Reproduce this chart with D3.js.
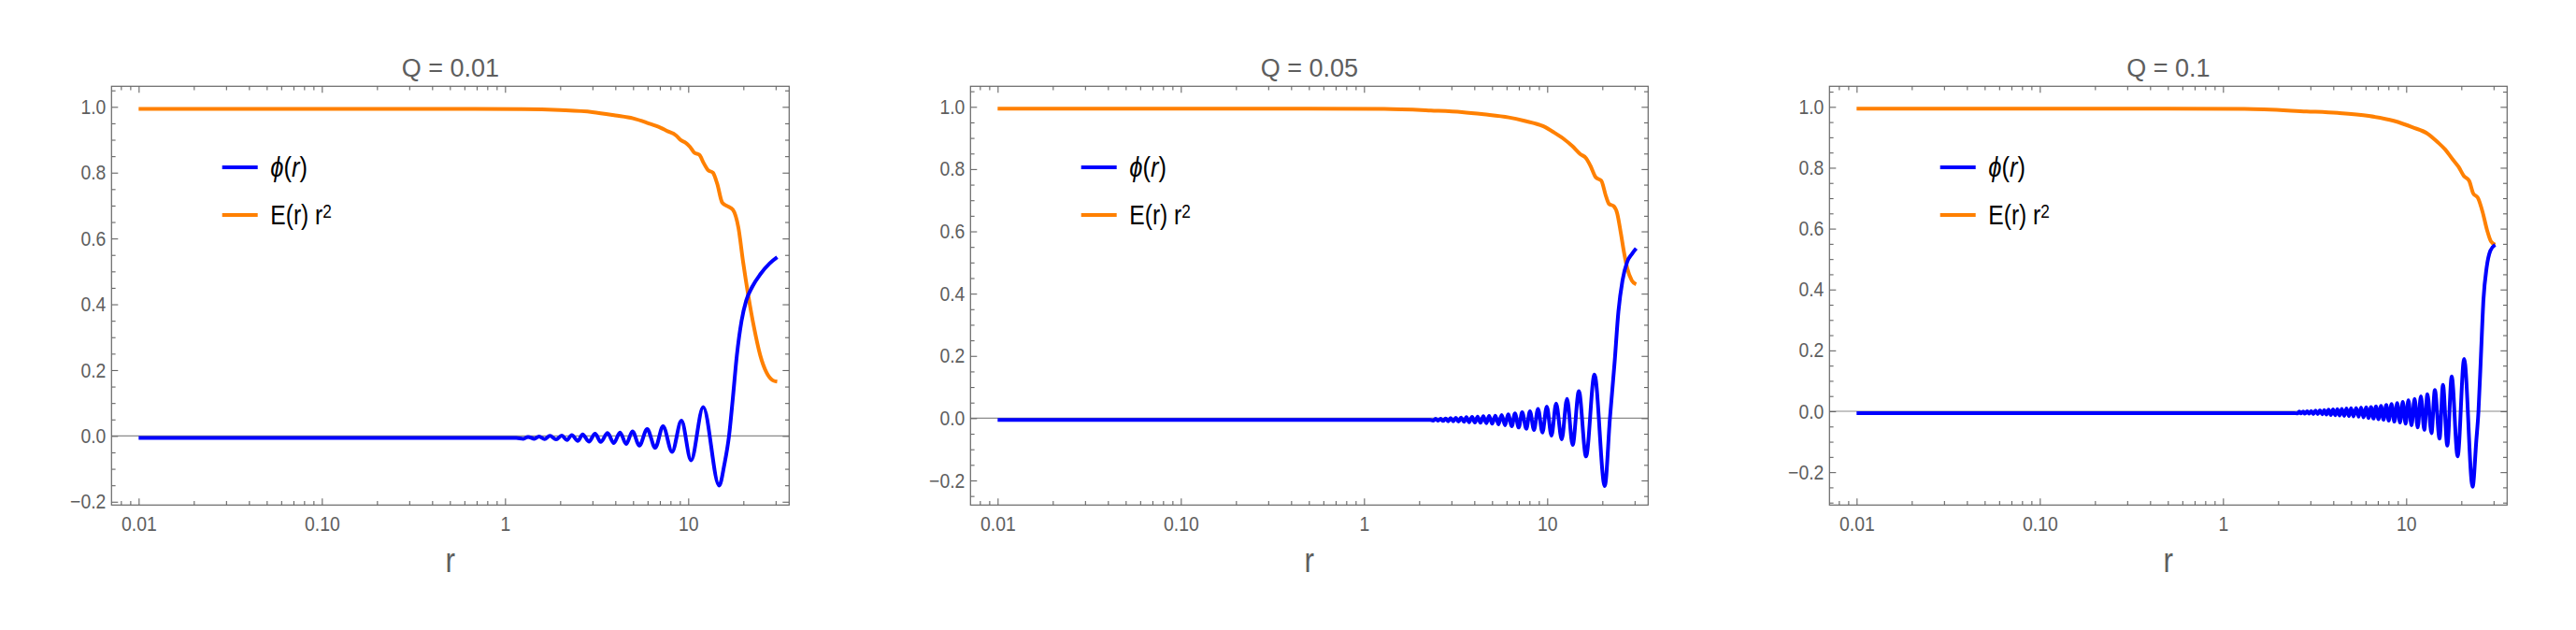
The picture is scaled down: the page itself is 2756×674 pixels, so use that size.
<!DOCTYPE html>
<html><head><meta charset="utf-8">
<script src="https://cdn.jsdelivr.net/npm/d3@7"></script>
<style>
body{margin:0;background:#fff}
svg text{font-family:"Liberation Sans",Arial,Helvetica,sans-serif}
</style>
</head><body>
<svg id="c" width="2756" height="674"></svg>
<script>
// ---------------- data ----------------
const titles = ["Q = 0.01", "Q = 0.05", "Q = 0.1"];
const xTickValues = [0.01, 0.1, 1, 10];
const xTickLabels = ["0.01", "0.10", "1", "10"];
const yTickValues = [-0.2, 0, 0.2, 0.4, 0.6, 0.8, 1.0];
const yTickLabels = ["\u22120.2", "0.0", "0.2", "0.4", "0.6", "0.8", "1.0"];
const xLabel = "r";
const xDomain = [0.00711, 35.56];
const yDomains = [[-0.210, 1.0625], [-0.279, 1.066], [-0.308, 1.0676]];

// Q = 0.01
const phiR1 = [0.01,0.03,0.1,0.3,0.6,1.0,1.15,
  1.260,1.336,1.446,1.533,1.645,1.758,1.901,2.040,2.181,2.313,
  2.501,2.652,2.869,3.102,3.329,3.628,3.924,4.243,4.589,4.963,
  5.410,5.968,6.605,7.287,8.163,9.180,10.36,12.07,14.75,
  15.76,16.71,17.51,18.43,19.54,20.72,22.41,24.72,27.80,30.6];
const phiV1 = [-0.006,-0.006,-0.006,-0.006,-0.006,-0.006,-0.006,
  -0.0086,-0.0029,-0.0086,-0.0020,-0.0095,0.0000,-0.0105,0.0009,-0.0124,0.0028,
  -0.0152,0.0047,-0.0171,0.0066,-0.0181,0.0085,-0.0218,0.0104,-0.0247,0.0141,
  -0.0294,0.0208,-0.0360,0.0293,-0.0484,0.0463,-0.0739,0.0880,-0.1506,
  -0.086,0.001,0.113,0.245,0.349,0.411,0.454,0.491,0.524,0.543];
const eR1 = [0.01,0.1,0.5,1.26,2.0,3.0,4.0,5.0,6.0,7.1,7.64,8.59,9.11,9.66,10.24,10.78,11.52,12.12,12.81,13.63,14.40,15.33,16.38,17.51,18.79,19.93,21.30,22.86,24.72,26.73,28.91,30.6];
const eV1 = [0.994,0.994,0.994,0.993,0.990,0.984,0.974,0.965,0.951,0.936,0.927,0.913,0.899,0.891,0.878,0.861,0.854,0.830,0.808,0.800,0.766,0.709,0.698,0.688,0.633,0.529,0.425,0.330,0.245,0.193,0.169,0.165];

// Q = 0.05
const phiR2 = [0.01,0.03,0.1,0.3,1.0,1.8,2.3,
  2.38,2.46,2.54,2.62,2.70,2.79,2.88,2.97,3.07,3.17,3.28,3.39,3.51,3.62,3.75,3.89,
  4.03,4.17,4.32,4.48,4.65,4.82,5.01,5.21,5.42,5.64,5.89,6.12,6.41,6.67,6.99,7.30,
  7.69,8.05,8.47,8.91,9.42,9.95,10.55,11.19,12.00,12.83,13.77,14.89,16.29,18.11,20.61,
  22.0,23.35,24.47,25.76,27.33,28.98,30.6];
const phiV2 = [-0.006,-0.006,-0.006,-0.006,-0.006,-0.006,-0.006,
  -0.008,-0.002,-0.008,-0.002,-0.009,-0.001,-0.010,0.000,-0.010,0.001,-0.011,0.002,-0.012,0.003,-0.013,0.004,
  -0.014,0.005,-0.015,0.006,-0.016,0.007,-0.018,0.008,-0.020,0.010,-0.023,0.012,-0.026,0.015,-0.030,0.019,
  -0.034,0.022,-0.038,0.030,-0.046,0.037,-0.056,0.047,-0.068,0.062,-0.086,0.087,-0.123,0.140,-0.218,
  0.000,0.182,0.342,0.442,0.502,0.527,0.545];
const eR2 = [0.01,0.1,0.5,1.288,2.317,3.428,4.508,6.166,7.499,9.483,10.88,12.24,13.76,15.18,16.29,17.21,18.45,19.73,20.93,21.77,23.07,24.10,25.27,26.27,27.33,28.98,30.6];
const eV2 = [0.994,0.994,0.994,0.993,0.988,0.983,0.976,0.966,0.955,0.938,0.918,0.898,0.873,0.848,0.835,0.811,0.773,0.763,0.713,0.688,0.681,0.658,0.592,0.532,0.482,0.442,0.430];

// Q = 0.1
const phiR3 = [0.01,0.03,0.1,0.3,1.0,1.8,2.45,
  2.55,2.61,2.67,2.74,2.80,2.88,2.95,3.03,3.11,3.20,3.29,3.38,3.48,3.57,3.67,3.77,3.88,3.99,
  4.10,4.21,4.33,4.45,4.59,4.72,4.87,5.00,5.16,5.33,5.50,5.67,5.85,6.04,6.23,6.43,6.63,6.84,
  7.06,7.29,7.52,7.79,8.03,8.32,8.62,8.93,9.25,9.58,9.93,10.28,10.69,11.12,11.56,12.03,
  12.56,13.06,13.74,14.34,15.21,15.88,16.77,17.72,19.09,20.72,23.04,
  24.14,24.81,25.60,26.42,27.48,28.80,30.6];
const phiV3 = [-0.006,-0.006,-0.006,-0.006,-0.006,-0.006,-0.006,
  -0.007,-0.001,-0.007,-0.001,-0.008,0.000,-0.008,0.001,-0.009,0.002,-0.009,0.003,-0.010,0.004,-0.011,0.005,-0.012,0.006,
  -0.013,0.007,-0.014,0.008,-0.015,0.009,-0.016,0.010,-0.017,0.011,-0.018,0.012,-0.020,0.013,-0.022,0.014,-0.024,0.016,
  -0.026,0.018,-0.028,0.021,-0.031,0.024,-0.034,0.027,-0.037,0.031,-0.041,0.036,-0.046,0.041,-0.053,0.049,
  -0.061,0.056,-0.072,0.070,-0.090,0.087,-0.113,0.114,-0.148,0.172,-0.248,
  -0.097,0.000,0.184,0.368,0.471,0.527,0.547];
const eR3 = [0.01,0.1,0.5,1.31,2.86,4.23,6.25,8.55,10.81,13.15,14.79,16.32,17.86,19.31,20.64,22.07,23.22,24.63,26.12,27.67,29.03,30.6];
const eV3 = [0.994,0.994,0.994,0.993,0.985,0.980,0.970,0.954,0.933,0.911,0.885,0.860,0.829,0.803,0.773,0.757,0.716,0.701,0.655,0.594,0.558,0.547];

// ---------------- drawing ----------------
const svg = d3.select("#c");
const panelLeft = [119.3, 1038.3, 1957.3];
const PT = 92.3, PW = 725, PH = 448;
const frameCol = "#666666", textCol = "#5e5e5e";
const blue = "#0000ff", orange = "#ff8000";

const panels = [
  {phiR: phiR1, phiV: phiV1, eR: eR1, eV: eV1},
  {phiR: phiR2, phiV: phiV2, eR: eR2, eV: eV2},
  {phiR: phiR3, phiV: phiV3, eR: eR3, eV: eV3}
];

function styleAxis(sel) {
  sel.select(".domain").remove();
  sel.selectAll(".tick line").attr("stroke", frameCol).attr("stroke-width", 1.1);
}

panels.forEach((p, i) => {
  const g = svg.append("g").attr("transform", `translate(${panelLeft[i]},${PT})`);
  const x = d3.scaleLog().domain(xDomain).range([0, PW]);
  const y = d3.scaleLinear().domain(yDomains[i]).range([PH, 0]);

  // minor tick values
  const xMinor = [];
  for (let e = -3; e <= 1; e++) for (let k = 2; k <= 9; k++) {
    const v = +(k * Math.pow(10, e)).toPrecision(6);
    if (v >= xDomain[0] && v <= xDomain[1]) xMinor.push(v);
  }
  const yMinor = [];
  for (let n = -8; n <= 22; n++) {
    const v = n * 0.05;
    if (n % 4 !== 0 && v >= yDomains[i][0] && v <= yDomains[i][1]) yMinor.push(v);
  }

  // zero line
  g.append("line").attr("x1", 0).attr("x2", PW).attr("y1", y(0)).attr("y2", y(0))
    .attr("stroke", "#8a8a8a").attr("stroke-width", 1.2);

  // axes (ticks inward on all four sides)
  const bottom = g.append("g").attr("transform", `translate(0,${PH})`)
    .call(d3.axisBottom(x).tickValues(xTickValues).tickFormat((d, j) => xTickLabels[j]).tickSize(-7).tickPadding(12));
  g.append("g").attr("transform", `translate(0,${PH})`)
    .call(d3.axisBottom(x).tickValues(xMinor).tickFormat(() => "").tickSize(-4.3)).call(styleAxis);
  g.append("g").call(d3.axisTop(x).tickValues(xTickValues).tickFormat(() => "").tickSize(-7)).call(styleAxis);
  g.append("g").call(d3.axisTop(x).tickValues(xMinor).tickFormat(() => "").tickSize(-4.3)).call(styleAxis);
  const left = g.append("g")
    .call(d3.axisLeft(y).tickValues(yTickValues).tickFormat((d, j) => yTickLabels[j]).tickSize(-7).tickPadding(6.8));
  g.append("g").call(d3.axisLeft(y).tickValues(yMinor).tickFormat(() => "").tickSize(-4.3)).call(styleAxis);
  g.append("g").attr("transform", `translate(${PW},0)`)
    .call(d3.axisRight(y).tickValues(yTickValues).tickFormat(() => "").tickSize(-7)).call(styleAxis);
  g.append("g").attr("transform", `translate(${PW},0)`)
    .call(d3.axisRight(y).tickValues(yMinor).tickFormat(() => "").tickSize(-4.3)).call(styleAxis);
  [bottom, left].forEach(a => {
    styleAxis(a);
    a.selectAll(".tick text").attr("fill", textCol).attr("font-size", 22)
      .attr("font-family", '"Liberation Sans",Arial,sans-serif')
      .attr("transform", "scale(0.88,1)");
  });

  // frame
  g.append("rect").attr("x", 0).attr("y", 0).attr("width", PW).attr("height", PH)
    .attr("fill", "none").attr("stroke", frameCol).attr("stroke-width", 1.2);

  // curves
  const line = d3.line().x(d => x(d[0])).y(d => y(d[1])).curve(d3.curveMonotoneX);
  const phiData = p.phiR.map((r, j) => [r, p.phiV[j]]);
  const eData = p.eR.map((r, j) => [r, p.eV[j]]);
  g.append("path").datum(eData).attr("d", line).attr("fill", "none")
    .attr("stroke", orange).attr("stroke-width", 4).attr("stroke-linejoin", "round");
  g.append("path").datum(phiData).attr("d", line).attr("fill", "none")
    .attr("stroke", blue).attr("stroke-width", 4).attr("stroke-linejoin", "round");

  // title
  g.append("text").attr("x", PW / 2).attr("y", 82 - PT).attr("text-anchor", "middle")
    .attr("font-size", 27).attr("fill", textCol).text(titles[i]);

  // x label
  g.append("text").attr("transform", `translate(${PW / 2},${611.5 - PT}) scale(0.85,1)`)
    .attr("text-anchor", "middle").attr("font-size", 37).attr("fill", textCol).text(xLabel);

  // legend
  const lg = g.append("g");
  lg.append("line").attr("x1", 118.4).attr("x2", 156.4).attr("y1", 86.7).attr("y2", 86.7)
    .attr("stroke", blue).attr("stroke-width", 4);
  lg.append("line").attr("x1", 118.4).attr("x2", 156.4).attr("y1", 137.7).attr("y2", 137.7)
    .attr("stroke", orange).attr("stroke-width", 4);
  const t1 = lg.append("text").attr("transform", "translate(170,96.7) scale(0.85,1)")
    .attr("font-size", 30).attr("fill", "#000");
  t1.append("tspan").attr("font-style", "italic").text("\u03D5");
  t1.append("tspan").text("(");
  t1.append("tspan").attr("font-style", "italic").text("r");
  t1.append("tspan").text(")");
  const t2 = lg.append("text").attr("transform", "translate(170,147.7) scale(0.82,1)")
    .attr("font-size", 30).attr("fill", "#000");
  t2.append("tspan").text("E(r) r");
  t2.append("tspan").attr("font-size", 21).attr("dy", -7).text("2");
});
</script>
</body></html>
